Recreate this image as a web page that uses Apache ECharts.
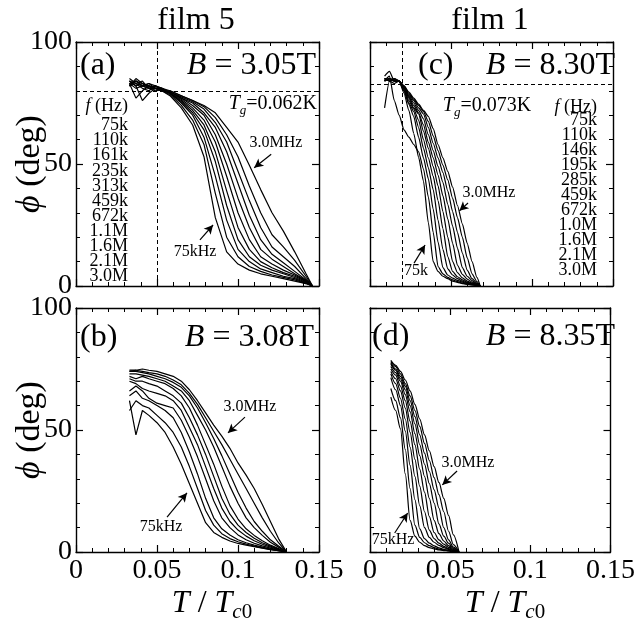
<!DOCTYPE html>
<html><head><meta charset="utf-8">
<script src="https://cdn.jsdelivr.net/npm/echarts@6.0.0/dist/echarts.min.js"></script>
<style>html,body{margin:0;padding:0;background:#fff}#c{width:638px;height:629px}</style>
</head><body><div id="c"></div>
<script>
// ---------- DATA ----------
const freqFilm5 = ['75k','110k','161k','235k','313k','459k','672k','1.1M','1.6M','2.1M','3.0M'];
const freqFilm1 = ['75k','110k','146k','195k','285k','459k','672k','1.0M','1.6M','2.1M','3.0M'];
const xTicks = [0, 0.05, 0.1, 0.15];
const yTicks = [0, 50, 100];

// panel (a) film 5, B = 3.05T
const tA = [0.033,0.037,0.041,0.045,0.049,0.053,0.058,0.065,0.072,0.079,0.086,0.093,0.100,0.107,0.114,0.121,0.128,0.135,0.142,0.146];
const phiA = [
 [83,77,80,82,81,80,78, 73,66,53,28,14,9,6.5,5,4,3,2,1,0],
 [84,82,76,79,81,80,78.5, 74,68,58,38,20,12,8,6,4.5,3.5,2.5,1,0],
 [82,84,83,81,80,80.5,79, 75,70,61,45,27,15,10,7,5.5,4,3,1.2,0],
 [85,83,82,81,81,80,79, 75.5,71,64,51,33,19,12,8.5,6.5,5,3.5,1.5,0],
 [83,81,82,83,82,81,79, 76,72,66,55,39,24,15,10,7.5,5.5,4,1.8,0],
 [84,83,81,80,82,81,79, 76.5,73,68,59,45,30,19,12,9,6.5,4.5,2,0],
 [82,85,83,82,81,80,79.5, 77,74,70,62,50,36,24,15,11,8,5,2.2,0],
 [83,84,82,81,82,80.5,79.5, 77,75,71,65,55,42,29,19,13,9.5,6,2.5,0],
 [84,82,83,82,81,81,79.5, 77.5,75.5,72.5,67,59,47,35,24,16,12,8,3,0],
 [82,83,84,81,82,80,80, 78,76,73.5,69,62,53,41,30,21,16,10.5,4,0],
 [83,84,82,83,81,81,80, 78,76,74,71,65,59,49.5,39.5,30,22.5,14,5,0]
];
// panel (c) film 1, B = 8.30T
const tC = [0.009,0.012,0.015,0.018,0.021,0.024,0.027,0.030,0.033,0.036,0.039,0.042,0.045,0.048,0.051,0.054,0.057,0.060,0.063,0.066,0.068];
const phiC = [
 [73,84,85, 84,79,72,62.5,52.7,43,26,10,6,4,3,2,1.5,1,0.7,0.4,0.2,0],
 [84,86,76, 70,64,61,58,55,48,36.5,22,8,5,3.5,2.5,1.8,1.2,0.8,0.5,0.2,0],
 [85,84,83, 84,80,74.5,69.5,61,52.5,44,31.5,18,7.5,4.5,3.2,2.3,1.6,1.1,0.7,0.3,0],
 [86,88,84, 84,80,75,71.5,65,56.5,48.5,39.5,27,15,7,4.5,3,2,1.3,0.8,0.4,0],
 [84,85,84, 84,80.5,76,72.5,68,60,52.5,45,35,23.5,12,6,3.8,2.5,1.6,1,0.5,0],
 [85,84,84.5, 84,81,77,73,70.5,63.5,56.5,49,41,30.5,20,10,5.5,3.3,2,1.2,0.6,0],
 [84,85,84, 84,81,77.5,74,71,66,59,52.5,45.5,37,27.5,17.5,8.5,4.8,2.8,1.6,0.7,0],
 [85,84.5,84, 84,81.5,78,75,72,68.5,62,55.5,49,42.5,33.5,24.5,15.5,7.5,4,2.2,0.9,0],
 [84.5,85,84.5, 84,81.5,78.5,76,73,70.5,65,58.5,52.5,46.5,39,30.5,22,13.5,6.5,3,1.2,0],
 [85,84,85, 84,82,79,76.5,74,71.5,67.5,61.5,55.5,49.5,43.5,36,28,20,11.5,5,1.8,0],
 [84,85,84.5, 84,82,79.5,77,74.5,72,69.5,64.5,58,52.5,47,40.5,33,25.5,17.5,10,3.5,0]
];
// panel (b) film 5, B = 3.08T
const tB = [0.033,0.037,0.041,0.045,0.050,0.055,0.060,0.065,0.070,0.075,0.080,0.085,0.090,0.095,0.100,0.105,0.110,0.115,0.120,0.125,0.130];
const phiB = [
 [62,48,58,56,53,49,43,36,28,20,12,8,6,4.5,3.5,2.8,2.2,1.6,1,0.5,0],
 [58,62,60,59,56,53,49,43,35,26,17,11,7.5,5.5,4.2,3.2,2.4,1.7,1.1,0.5,0],
 [64,66,63,62,60,58,55,49,41,32,22,14,9.5,7,5,3.8,2.8,2,1.2,0.6,0],
 [66,68,66,63,61,60,59,54,47,39,30,21,14,10,7,5,3.6,2.5,1.6,0.8,0],
 [70,69,67,66,65,64,62,58,51,44,35,26,18,12.5,9,6.5,4.6,3.2,2,1,0],
 [71,70,70,69,68,66,64,61,55,48,40,31,22,15.5,11,8,5.6,3.8,2.4,1.2,0],
 [72,71,72,71,70,69,67,64,59,52,44,36,27,19,13.5,9.5,6.8,4.6,2.8,1.4,0],
 [73,73,72.5,72,71,70,68,66,62,56,50,43,35,27,20,14,10,6.8,4,2,0],
 [74,74,73.5,73,72,71,69.5,67.5,64,59,53,46.5,39.5,32,24.5,18,12.5,8.5,5,2.5,0],
 [74.5,74.5,74,73.5,73,72,70.5,68.5,65,60.5,55,49.5,44,38,32,26,20,14,8.5,3.8,0],
 [74,74.5,75,74.5,74,73,72,70,66.5,62,57,52,47.5,42.5,36.5,31.5,26,19.5,12.5,5.5,0]
];
// panel (d) film 1, B = 8.35T
const tD = [0.013,0.016,0.019,0.022,0.025,0.028,0.031,0.034,0.037,0.040,0.043,0.046,0.049,0.052,0.0555];
const phiD = [
 [63.5,58,50.5,32,13,6.5,4,2.6,1.8,1.3,0.9,0.6,0.4,0.2,0],
 [67,62,55,42,26,11,6,3.8,2.6,1.8,1.2,0.8,0.5,0.25,0],
 [71.5,66.5,60,49.5,35.5,21.5,9.5,5.5,3.6,2.5,1.7,1.1,0.7,0.3,0],
 [73,69,63,54.5,43,31,19,10,6,4,2.7,1.8,1.1,0.5,0],
 [74,71,66,59,49,38,27,16.5,9,5.5,3.6,2.3,1.4,0.6,0],
 [75,72.5,68,62,53.5,44,34,24.5,14.5,8,5,3.2,1.9,0.8,0],
 [76,73.5,70,64.5,57.5,48.5,39.5,31,22,13,7.5,4.5,2.6,1.1,0],
 [77,74.5,71,66.5,60,52.5,44,36,28,20,11.5,6.5,3.6,1.5,0],
 [77.5,75,72,68,62,55.5,48,40.5,33,25.5,18,10,5,2,0],
 [78,76,73,69,64,58,51.5,44.5,37.5,30.5,23.5,16.5,8.5,3,0],
 [78.5,76.5,74,70.5,66,60.5,54.5,48,41.5,35,28.5,22,15,7,0]
];
// reference lines (phase plateau, Tg/Tc0) and arrow annotations [tail, tip]
const dashA = {phi: 80, t: 0.0543};
const dashC = {phi: 82.7, t: 0.0185};
const arrowsA = [[[0.1205,54],[0.1100,48.5]], [[0.0765,18.9],[0.0846,25]]];
const arrowsC = [[[0.0605,34],[0.0552,30.8]], [[0.0272,9.4],[0.0340,16.8]]];
const arrowsB = [[[0.1043,55.3],[0.0938,48.8]], [[0.0562,14.3],[0.0685,24.2]]];
const arrowsD = [[[0.0543,33.2],[0.0451,27.5]], [[0.0154,7.8],[0.0235,16]]];

// ---------- CHART ----------
const FONT = "'Liberation Serif','Times New Roman',serif";
const grids = [
  {left:76, top:42, width:243, height:244},   // (a)
  {left:370, top:42, width:243, height:244},  // (c)
  {left:76, top:308, width:243, height:244},  // (b)
  {left:370, top:308, width:243, height:244}  // (d)
];
const panels = [
  {g:0, t:tA, phi:phiA, smooth:false, dash:dashA, arrows:arrowsA},
  {g:1, t:tC, phi:phiC, smooth:0.2, dash:dashC, arrows:arrowsC},
  {g:2, t:tB, phi:phiB, smooth:false, dash:null, arrows:arrowsB},
  {g:3, t:tD, phi:phiD, smooth:0.3, dash:null, arrows:arrowsD}
];

const lineW = 1.4;
function xAx(g, pos, lab){
  return {type:'value', gridIndex:g, position:pos, min:xTicks[0], max:xTicks[xTicks.length-1], interval:xTicks[1]-xTicks[0],
    axisLine:{show:true, onZero:false, lineStyle:{color:'#000', width:lineW}},
    axisTick:{show:true, inside:true, length:7, lineStyle:{color:'#000', width:1.2}},
    minorTick:{show:true, splitNumber:5, length:4, lineStyle:{color:'#000', width:1}},
    splitLine:{show:false},
    axisLabel:{show:lab, color:'#000', fontFamily:FONT, fontSize:28, margin:5,
      formatter: v => String(+v.toFixed(2))}
  };
}
function yAx(g, pos, lab){
  return {type:'value', gridIndex:g, position:pos, min:yTicks[0], max:yTicks[yTicks.length-1], interval:yTicks[1]-yTicks[0],
    axisLine:{show:true, onZero:false, lineStyle:{color:'#000', width:lineW}},
    axisTick:{show:true, inside:true, length:7, lineStyle:{color:'#000', width:1.2}},
    minorTick:{show:true, splitNumber:5, length:4, lineStyle:{color:'#000', width:1}},
    splitLine:{show:false},
    axisLabel:{show:lab, color:'#000', fontFamily:FONT, fontSize:28, margin:4}
  };
}
const xAxis = [], yAxis = [];
grids.forEach((gr, g) => {
  xAxis.push(xAx(g, 'bottom', g >= 2));
  xAxis.push(xAx(g, 'top', false));
  yAxis.push(yAx(g, 'left', g === 0 || g === 2));
  yAxis.push(yAx(g, 'right', false));
});

const series = [];
panels.forEach(p => {
  p.phi.forEach((arr, k) => {
    const s = {type:'line', xAxisIndex:2*p.g, yAxisIndex:2*p.g, symbol:'none', silent:true,
      smooth:p.smooth, smoothMonotone: p.smooth ? 'x' : undefined,
      lineStyle:{color:'#000', width:1.2}, data: p.t.map((t,i)=>[t, arr[i]])};
    series.push(s);
  });
  const ml = [];
  if (p.dash) {
    ml.push({yAxis:p.dash.phi, symbol:'none', lineStyle:{type:[4,3], width:1, color:'#000'}});
    ml.push({xAxis:p.dash.t, symbol:'none', lineStyle:{type:[4,3], width:1, color:'#000'}});
  }
  p.arrows.forEach(a => {
    ml.push([{coord:a[0], symbol:'none', lineStyle:{type:'solid', width:1.2, color:'#000'}}, {coord:a[1], symbol:'arrow', symbolSize:[7,9]}]);
  });
  series.push({type:'line', xAxisIndex:2*p.g, yAxisIndex:2*p.g, data:[], silent:true,
    markLine:{silent:true, animation:false, symbol:['none','none'], label:{show:false}, lineStyle:{color:'#000', width:1.2}, data:ml}});
});

function T(x, y, text, size, o){
  o = o || {};
  const style = {text, fill:'#000', fontFamily:FONT, fontSize:size,
    align:o.align||'center', verticalAlign:o.va||'middle'};
  if (o.lh) style.lineHeight = o.lh;
  if (o.rich) style.rich = o.rich;
  return {type:'text', x, y, rotation:o.rot||0, silent:true, z:100, style};
}
function richB(size){
  return {i:{fontStyle:'italic', fontFamily:FONT, fontSize:size, lineHeight:size+4}};
}
function richSub(size, sub){
  return {
    i:{fontStyle:'italic', fontFamily:FONT, fontSize:size, lineHeight:size+6, verticalAlign:'middle'},
    s:{fontStyle:'italic', fontFamily:FONT, fontSize:sub, lineHeight:Math.round(sub*0.6), verticalAlign:'bottom'},
    n:{fontFamily:FONT, fontSize:sub, lineHeight:Math.round(sub*0.6), verticalAlign:'bottom'}
  };
}

const graphic = [
  T(196, 21, 'film 5', 32),
  T(490, 21, 'film 1', 32),
  T(30, 164, '{i|ϕ} (deg)', 34, {rot:Math.PI/2, rich:richB(34)}),
  T(30, 430, '{i|ϕ} (deg)', 34, {rot:Math.PI/2, rich:richB(34)}),
  T(212, 604, '{i|T} / {i|T}{s|c}{n|0}', 32, {rich:richSub(32, 21), lh:38}),
  T(505, 604, '{i|T} / {i|T}{s|c}{n|0}', 32, {rich:richSub(32, 21), lh:38}),
  // (a)
  T(80, 66, '(a)', 32, {align:'left'}),
  T(316, 66, '{i|B} = 3.05T', 32, {align:'right', rich:richB(32)}),
  T(317, 104, '{i|T}{s|g}=0.062K', 20, {align:'right', rich:richSub(20, 13), lh:24}),
  T(128, 106, '{i|f} (Hz)', 18, {align:'right', rich:richB(18)}),
  T(128, 118, freqFilm5.join('\n'), 18, {align:'right', va:'top', lh:15.1}),
  T(276, 143, '3.0MHz', 16),
  T(195, 252, '75kHz', 16),
  // (c)
  T(418, 66, '(c)', 32, {align:'left'}),
  T(615, 66, '{i|B} = 8.30T', 32, {align:'right', rich:richB(32)}),
  T(487, 106, '{i|T}{s|g}=0.073K', 20, {rich:richSub(20, 13), lh:24}),
  T(597, 107, '{i|f} (Hz)', 18, {align:'right', rich:richB(18)}),
  T(597, 113, freqFilm1.join('\n'), 18, {align:'right', va:'top', lh:15}),
  T(489, 193, '3.0MHz', 16),
  T(416, 271, '75k', 16),
  // (b)
  T(80, 338, '(b)', 32, {align:'left'}),
  T(314, 338, '{i|B} = 3.08T', 32, {align:'right', rich:richB(32)}),
  T(250, 407, '3.0MHz', 16),
  T(161, 527, '75kHz', 16),
  // (d)
  T(372, 337, '(d)', 32, {align:'left'}),
  T(615, 337, '{i|B} = 8.35T', 32, {align:'right', rich:richB(32)}),
  T(468, 463, '3.0MHz', 16),
  T(393, 540, '75kHz', 16)
];

const chart = echarts.init(document.getElementById('c'), null, {renderer:'canvas'});
chart.setOption({
  animation:false,
  backgroundColor:'#fff',
  grid: grids,
  xAxis, yAxis, series, graphic
});
</script></body></html>
